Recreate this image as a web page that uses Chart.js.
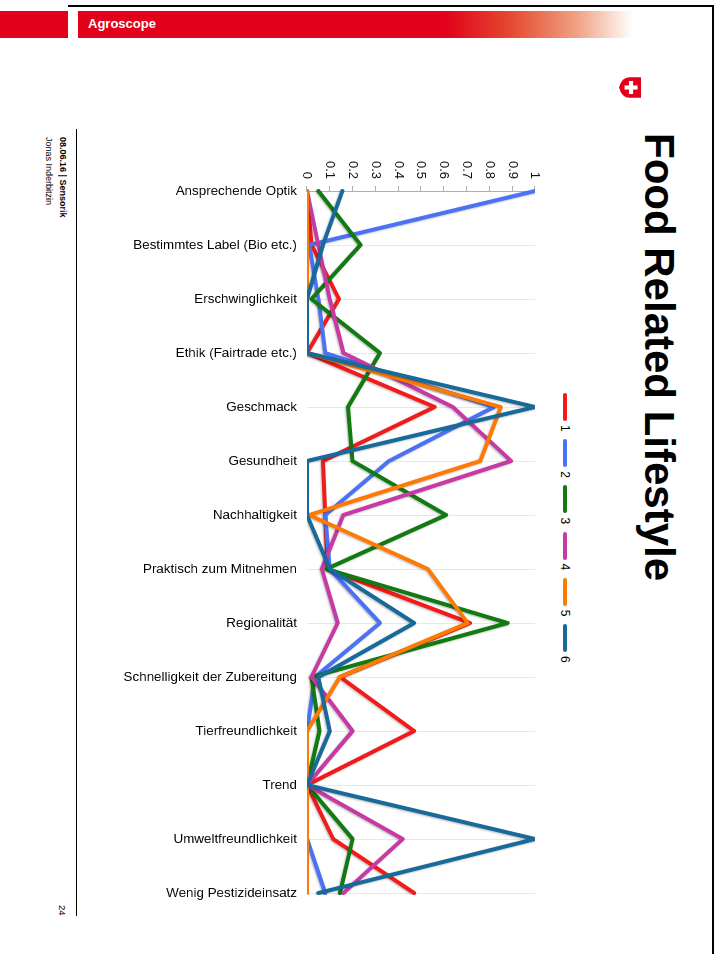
<!DOCTYPE html>
<html>
<head>
<meta charset="utf-8">
<script src="https://cdn.jsdelivr.net/npm/chart.js@4.4.1/dist/chart.umd.min.js"></script>
<style>
  body { margin: 0; width: 722px; height: 954px; background: #fff; position: relative; overflow: hidden; font-family: "Liberation Sans", Arial, sans-serif; }
  #frameTop { position: absolute; left: 68px; top: 5px; width: 646px; height: 2px; background: #000; }
  #frameRight { position: absolute; left: 712px; top: 5px; width: 2px; height: 949px; background: #000; }
  #barLeft { position: absolute; left: 0; top: 11px; width: 68px; height: 27px; background: #e2001a; }
  #barMain { position: absolute; left: 78px; top: 11px; width: 555px; height: 27px;
    background: linear-gradient(to right, #e2001a 0%, #e2001a 66%, #e44a30 78%, #f0a284 90%, #ffffff 100%); }
  #brand { position: absolute; left: 88px; top: 11px; line-height: 25px; color: #fff; font-weight: bold; font-size: 13px; }
  /* the slide content is turned a quarter clockwise */
  #slide { position: absolute; left: 722px; top: 0; width: 954px; height: 722px; transform-origin: 0 0; transform: rotate(90deg); }
  #logo { position: absolute; left: 77px; top: 81px; }
  #title { position: absolute; left: 133px; top: 42px; font-size: 42px; line-height: 42px; font-weight: bold; color: #000; white-space: nowrap; }
  #chart { position: absolute; left: 100px; top: 130px; }
  .leg { position: absolute; top: 150px; height: 14px; display: flex; align-items: center; font-size: 12px; color: #000; }
  .leg span.mark { display: inline-block; width: 28px; height: 4px; border-radius: 2px; margin-right: 4px; }
  #footLine { position: absolute; left: 129px; top: 645px; width: 787px; height: 1px; background: #000; }
  #footText { position: absolute; left: 137px; top: 652px; font-size: 9px; line-height: 14px; color: #000; white-space: nowrap; }
  #page { position: absolute; left: 905px; top: 653px; font-size: 9.5px; line-height: 14px; color: #000; }
</style>
</head>
<body>
<div id="barLeft"></div>
<div id="barMain"></div>
<div id="brand">Agroscope</div>
<div id="frameTop"></div>
<div id="frameRight"></div>

<div id="slide">
  <svg id="logo" width="21" height="22" viewBox="0 0 30 32">
    <path d="M0 0 H30 V17 Q30 28 15 32 Q0 28 0 17 Z" fill="#e2001a"/>
    <rect x="12" y="5" width="6" height="19" fill="#fff"/>
    <rect x="5.5" y="11.5" width="19" height="6" fill="#fff"/>
  </svg>
  <div id="title">Food Related Lifestyle</div>
  <div id="legend"></div>
  <canvas id="chart" width="820" height="500"></canvas>
  <div id="footLine"></div>
  <div id="footText"><b>08.06.16 | Sensorik</b><br>Jonas Inderbitzin</div>
  <div id="page">24</div>
</div>

<script>
const categories = [
    'Ansprechende Optik',
    'Bestimmtes Label (Bio etc.)',
    'Erschwinglichkeit',
    'Ethik (Fairtrade etc.)',
    'Geschmack',
    'Gesundheit',
    'Nachhaltigkeit',
    'Praktisch zum Mitnehmen',
    'Regionalität',
    'Schnelligkeit der Zubereitung',
    'Tierfreundlichkeit',
    'Trend',
    'Umweltfreundlichkeit',
    'Wenig Pestizideinsatz'
];

const seriesNames = ['1', '2', '3', '4', '5', '6'];
const seriesColors = ['#f21a1a', '#4a72f4', '#117a11', '#c63aa4', '#ff7a05', '#176a9a'];

const cluster1 = [0, 0.02, 0.14, 0, 0.56, 0.07, 0.08, 0.09, 0.715, 0.145, 0.47, 0, 0.115, 0.47];
const cluster2 = [1, 0.01, 0.05, 0.08, 0.82, 0.36, 0.08, 0.1, 0.32, 0.035, 0, 0, 0, 0.08];
const cluster3 = [0.05, 0.235, 0.02, 0.32, 0.18, 0.2, 0.61, 0.085, 0.88, 0.02, 0.055, 0, 0.2, 0.145];
const cluster4 = [0, 0.05, 0.1, 0.16, 0.64, 0.895, 0.16, 0.065, 0.135, 0.02, 0.2, 0, 0.42, 0.16];
const cluster5 = [0, 0, 0, 0, 0.85, 0.76, 0.01, 0.53, 0.705, 0.145, 0, 0, 0, 0];
const cluster6 = [0.155, 0.07, 0, 0, 1, 0, 0, 0.1, 0.47, 0.05, 0.1, 0, 1, 0.05];

const seriesValues = [cluster1, cluster2, cluster3, cluster4, cluster5, cluster6];

const valueMin = 0;
const valueMax = 1;
const valueStep = 0.1;

const fontFamily = '"Liberation Sans", Arial, sans-serif';

// legend row, one line mark and number per cluster
const legendDiv = document.getElementById('legend');
seriesNames.forEach((name, i) => {
    const item = document.createElement('div');
    item.className = 'leg';
    item.style.left = (393 + i * 46.2) + 'px';
    item.innerHTML = `<span class="mark" style="background:${seriesColors[i]}"></span>${name}`;
    legendDiv.appendChild(item);
});

// soft shadow under the lines
const lineShadow = {
    id: 'lineShadow',
    beforeDatasetsDraw(chart) {
        const c = chart.ctx;
        c.save();
        c.shadowColor = 'rgba(0,0,0,0.25)';
        c.shadowBlur = 2;
        c.shadowOffsetX = 1;
        c.shadowOffsetY = 1;
    },
    afterDatasetsDraw(chart) {
        chart.ctx.restore();
    }
};

const datasets = seriesValues.map((values, i) => ({
    label: seriesNames[i],
    data: values,
    borderColor: seriesColors[i],
    backgroundColor: seriesColors[i],
    borderWidth: 4,
    pointRadius: 0,
    pointHoverRadius: 0,
    tension: 0,
    fill: false,
    borderJoinStyle: 'round',
    borderCapStyle: 'round',
    order: seriesValues.length - i
}));

new Chart(document.getElementById('chart'), {
    type: 'line',
    data: { labels: categories, datasets: datasets },
    plugins: [lineShadow],
    options: {
        responsive: false,
        animation: false,
        devicePixelRatio: 1,
        layout: { padding: { top: 57, right: 27, bottom: 0, left: 0 } },
        plugins: {
            legend: { display: false },
            title: { display: false },
            tooltip: { enabled: false }
        },
        scales: {
            x: {
                offset: false,
                afterFit(scale) { scale.height = 215; },
                grid: { color: 'rgba(180,222,240,0.55)', lineWidth: 1, drawTicks: false },
                border: { display: false },
                ticks: {
                    autoSkip: false,
                    minRotation: 90,
                    maxRotation: 90,
                    padding: 10,
                    color: '#000',
                    font: { family: fontFamily, size: 13.4 }
                }
            },
            y: {
                min: valueMin,
                max: valueMax,
                afterFit(scale) { scale.width = 91; },
                grid: { drawOnChartArea: false, drawTicks: true, tickLength: 5, color: '#b0b0b0' },
                border: { display: true, color: '#b0b0b0', width: 1 },
                ticks: {
                    stepSize: valueStep,
                    padding: 7,
                    color: '#111',
                    font: { family: fontFamily, size: 13 },
                    callback: (v) => String(Number(v.toFixed(1)))
                }
            }
        }
    }
});
</script>
</body>
</html>
